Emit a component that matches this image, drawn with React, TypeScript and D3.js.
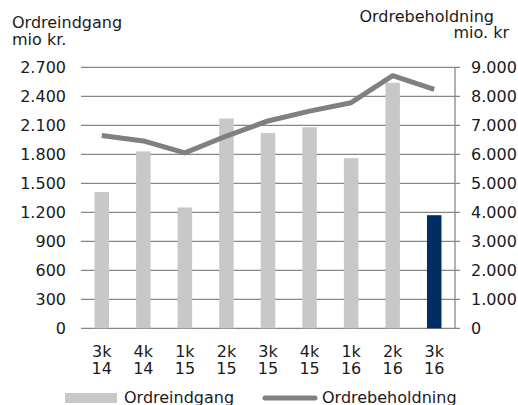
import React from "react";
import * as d3 from "d3";

const categories = ["3k 14", "4k 14", "1k 15", "2k 15", "3k 15", "4k 15", "1k 16", "2k 16", "3k 16"];
const ordreindgang = [1410, 1830, 1250, 2170, 2020, 2080, 1760, 2540, 1170];
const ordrebeholdning = [6650, 6460, 6050, 6630, 7150, 7490, 7780, 8710, 8240];
const leftTicks = [0, 300, 600, 900, 1200, 1500, 1800, 2100, 2400, 2700];
const rightTicks = [0, 1000, 2000, 3000, 4000, 5000, 6000, 7000, 8000, 9000];

const W = 518, H = 405;
const left = 81, right = 455, top = 67.3, bottom = 328.3;
const FONT = "'DejaVu Sans', Verdana, sans-serif";
const FS = 16;
const fmt = (v: number) => d3.format(",")(v).replace(/,/g, ".");

export default function App() {
  const x = d3.scaleBand<string>().domain(categories).range([left, right]);
  const yL = d3.scaleLinear().domain([0, 2700]).range([bottom, top]);
  const yR = d3.scaleLinear().domain([0, 9000]).range([bottom, top]);
  const bw = 14.5;
  const cx = (c: string) => (x(c) as number) + x.bandwidth() / 2;
  const line = d3.line<number>().x((_, i) => cx(categories[i])).y((d) => yR(d));
  const textColor = "#1a1a1a";
  return (
    <svg width={W} height={H} style={{ position: "absolute", left: 0, top: 0 }} fontFamily={FONT}>
      <rect width={W} height={H} fill="#fff" />
      {leftTicks.map((t) => (
        <line key={t} x1={left} x2={right + 5} y1={yL(t)} y2={yL(t)} stroke="#878787" strokeWidth={1.3} />
      ))}
      <line x1={right} x2={right} y1={top} y2={bottom} stroke="#878787" strokeWidth={1.3} />
      {ordreindgang.map((v, i) => (
        <rect key={i} x={cx(categories[i]) - bw / 2} y={yL(v)} width={bw} height={bottom - yL(v)}
          fill={i === categories.length - 1 ? "#002D62" : "#C8C8C8"} />
      ))}
      <path d={line(ordrebeholdning) || ""} fill="none" stroke="#808080" strokeWidth={5} strokeLinejoin="round" />
      {leftTicks.map((t) => (
        <text key={t} x={66} y={yL(t)} dy="0.35em" textAnchor="end" fontSize={FS} fill={textColor}>{fmt(t)}</text>
      ))}
      {rightTicks.map((t) => (
        <text key={t} x={471} y={yR(t)} dy="0.35em" textAnchor="start" fontSize={FS} fill={textColor}>{fmt(t)}</text>
      ))}
      {categories.map((c) => {
        const [a, b] = c.split(" ");
        return (
          <text key={c} x={cx(c)} textAnchor="middle" fontSize={FS} fill={textColor}>
            <tspan x={cx(c)} y={357}>{a}</tspan>
            <tspan x={cx(c)} y={373.5}>{b}</tspan>
          </text>
        );
      })}
      <text fontSize={FS} fill={textColor}>
        <tspan x={12} y={28.3}>Ordreindgang</tspan>
        <tspan x={12} y={45}>mio kr.</tspan>
      </text>
      <text fontSize={FS} fill={textColor}>
        <tspan x={494} y={21.7} textAnchor="end">Ordrebeholdning</tspan>
        <tspan x={509} y={38.3} textAnchor="end">mio. kr</tspan>
      </text>
      <rect x={65} y={393} width={52} height={10} fill="#C8C8C8" />
      <text x={124} y={403} fontSize={FS} fill={textColor}>Ordreindgang</text>
      <line x1={265} x2={315} y1={398} y2={398} stroke="#808080" strokeWidth={5} strokeLinecap="round" />
      <text x={322} y={403} fontSize={FS} fill={textColor}>Ordrebeholdning</text>
    </svg>
  );
}
